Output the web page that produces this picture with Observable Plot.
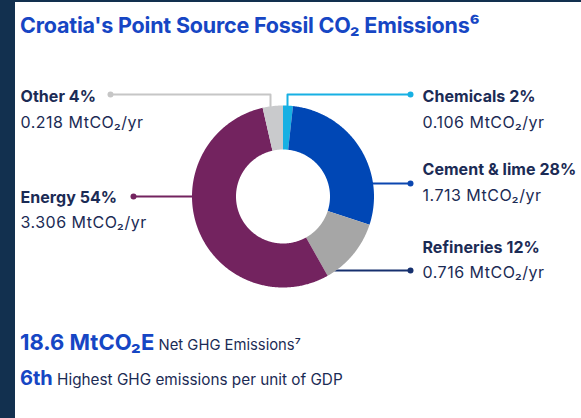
<!DOCTYPE html>
<html>
<head>
<meta charset="utf-8">
<script src="https://cdn.jsdelivr.net/npm/d3@7"></script>
<script src="https://cdn.jsdelivr.net/npm/@observablehq/plot@0.6"></script>
<style>
  html, body { margin: 0; padding: 0; background: #fff; }
  body { width: 581px; height: 418px; position: relative; overflow: hidden; font-family: Inter, "Open Sans", sans-serif; color: #1b2b55; }
  #strip { position: absolute; left: 0; top: 0; width: 15px; height: 418px; background: #12304f; }
  #topbar { position: absolute; left: 0; top: 0; width: 581px; height: 2px; background: #12304f; }
  #title { position: absolute; left: 20px; top: 12px; font-size: 21.5px; font-weight: 700; color: #1646c4; white-space: nowrap; letter-spacing: -0.2px; }
  #chart { position: absolute; left: 15px; top: 40px; }
  #chart text { letter-spacing: 0.5px; }
  #chart g[font-weight="700"] text { letter-spacing: 0.05px; }
  .stat { position: absolute; left: 20px; white-space: nowrap; color: #1b2b55; font-size: 15.3px; }
  .stat b { color: #1646c4; font-weight: 700; }
  #s1 { top: 329px; }
  #s1 b { font-size: 22px; }
  #s1 span { font-size: 14.8px; }
  #s2 { top: 366px; }
  #s2 b { font-size: 20px; }
</style>
</head>
<body>
<div id="strip"></div>
<div id="topbar"></div>
<div id="title">Croatia's Point Source Fossil CO₂ Emissions⁶</div>
<div id="chart"></div>
<div class="stat" id="s1"><b>18.6 MtCO₂E</b> <span>Net GHG Emissions⁷</span></div>
<div class="stat" id="s2"><b>6th</b> Highest GHG emissions per unit of GDP</div>
<script>
// ---- data ----
const categories = ["Chemicals", "Cement & lime", "Refineries", "Energy", "Other"];
const values = [0.106, 1.713, 0.716, 3.306, 0.218];   // MtCO2/yr
const percents = [2, 28, 12, 54, 4];
const unit = "MtCO₂/yr";

// ---- style / layout (page pixel coordinates) ----
const sliceColors = ["#17b0e3", "#0047b5", "#a6a6a6", "#73235f", "#c9cacc"];
const leaderColors = ["#17b0e3", "#0b46b0", "#16306e", "#73235f", "#c6c6c6"];
const cx = 282.5, cy = 196, R = 91, r = 47;
// label layout: text x, name baseline, value baseline, dot position
const labelX = [422, 422, 422, 20, 20];
const nameY = [101, 174, 252, 202, 101];
const valueY = [127, 200, 277, 227, 127];
const dotX = [410, 410, 410, 133, 110];
const dotY = [94, 183, 270, 196, 94];
// leader attaches to donut: "top" at a given x, or "side" at dot y
const attach = [{top: 287}, {side: 1}, {side: 1}, {side: -1}, {top: 270}];

// ---- geometry built from data ----
const pie = d3.pie().sort(null).value(d => d).startAngle(0).endAngle(2 * Math.PI)(values);
const polar = (rad, a) => [cx + rad * Math.sin(a), cy - rad * Math.cos(a)];
const slicePts = [];
pie.forEach((p, i) => {
  const n = Math.max(4, Math.ceil((p.endAngle - p.startAngle) / 0.01));
  for (let k = 0; k <= n; k++) {
    const a = p.startAngle + (p.endAngle - p.startAngle) * k / n;
    const [x, y] = polar(R, a);
    slicePts.push({cat: categories[i], x, y});
  }
  for (let k = n; k >= 0; k--) {
    const a = p.startAngle + (p.endAngle - p.startAngle) * k / n;
    const [x, y] = polar(r, a);
    slicePts.push({cat: categories[i], x, y});
  }
});

const leaderPts = [];
categories.forEach((c, i) => {
  const at = attach[i];
  if (at.top !== undefined) {
    const yTop = cy - Math.sqrt(R * R - (at.top - cx) ** 2);
    leaderPts.push({cat: c, x: at.top, y: yTop}, {cat: c, x: at.top, y: dotY[i]}, {cat: c, x: dotX[i], y: dotY[i]});
  } else {
    const xs = cx + at.side * Math.sqrt(R * R - (dotY[i] - cy) ** 2);
    leaderPts.push({cat: c, x: xs - at.side * 1, y: dotY[i]}, {cat: c, x: dotX[i], y: dotY[i]});
  }
});

const labels = categories.map((c, i) => ({
  cat: c, name: `${c} ${percents[i]}%`, value: `${values[i].toFixed(3)} ${unit}`,
  lx: labelX[i], ny: nameY[i], vy: valueY[i], dx: dotX[i], dy: dotY[i]
}));

const chart = Plot.plot({
  width: 566, height: 260,
  margin: 0,
  x: {domain: [15, 581], range: [0, 566], axis: null},
  y: {domain: [40, 300], range: [0, 260], axis: null},
  color: {domain: categories, range: sliceColors},
  style: {fontFamily: "Inter, 'Open Sans', sans-serif", overflow: "visible"},
  marks: [
    Plot.line(leaderPts, {x: "x", y: "y", z: "cat", stroke: d => leaderColors[categories.indexOf(d.cat)], strokeWidth: 2, curve: "linear"}),
    Plot.line(slicePts, {x: "x", y: "y", z: "cat", fill: "cat", stroke: "none", curve: "linear"}),
    Plot.dot(labels, {x: "dx", y: "dy", r: 3, fill: d => leaderColors[categories.indexOf(d.cat)], stroke: "none"}),
    Plot.text(labels, {x: "lx", y: "ny", text: "name", textAnchor: "start", lineAnchor: "bottom", fontSize: 16, fontWeight: 700, fill: "#1b2b55"}),
    Plot.text(labels, {x: "lx", y: "vy", text: "value", textAnchor: "start", lineAnchor: "bottom", fontSize: 16, fill: "#1b2b55"})
  ]
});
document.getElementById("chart").appendChild(chart);
</script>
</body>
</html>
